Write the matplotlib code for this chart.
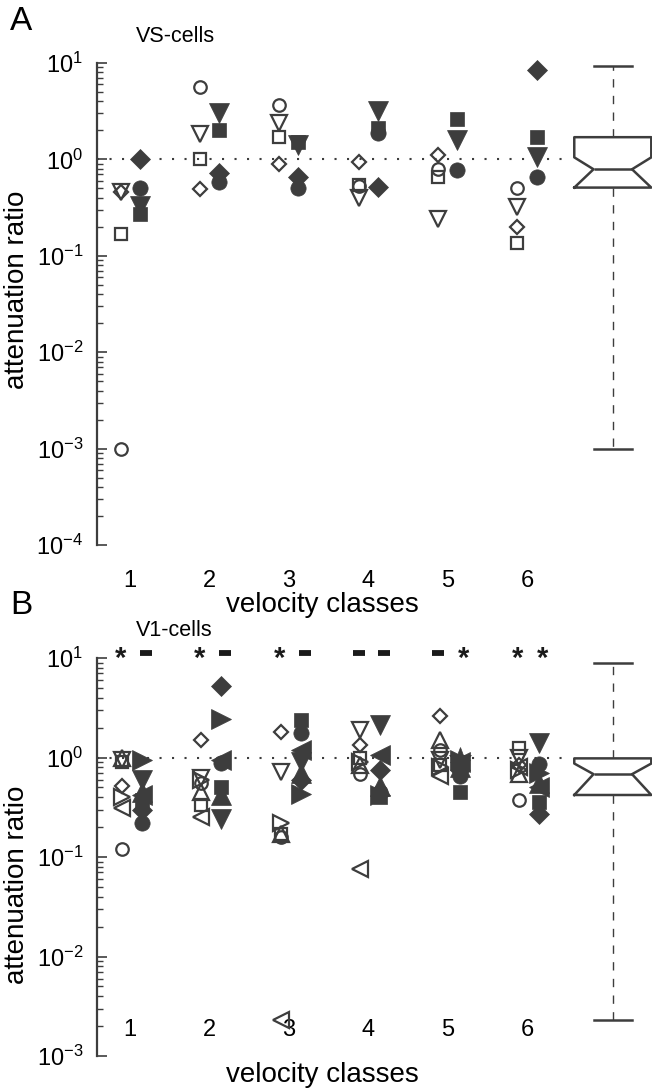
import numpy as np
import matplotlib
matplotlib.use("Agg")
import matplotlib.pyplot as plt
import matplotlib.transforms as mtransforms

plt.rcParams['font.family'] = ['Liberation Sans', 'DejaVu Sans']
plt.rcParams['mathtext.fontset'] = 'custom'
plt.rcParams['mathtext.rm'] = 'Liberation Sans'
plt.rcParams['mathtext.it'] = 'Liberation Sans'

nan = np.nan
classes = [1, 2, 3, 4, 5, 6]
class_labels = ['1', '2', '3', '4', '5', '6']

# ---------------- Panel A: VS-cells ----------------
vs_open_circle   = [0.001, 5.6, 3.7, 0.53, 0.80, 0.51]
vs_open_tridown  = [0.46, 1.85, 2.4, 0.40, 0.24, 0.32]
vs_open_square   = [0.17, 1.0, 1.7, 0.54, 0.65, 0.135]
vs_open_diamond  = [0.46, 0.49, 0.90, 0.95, 1.1, 0.20]
vs_fill_diamond  = [1.0, 0.73, 0.65, 0.52, nan, 8.4]
vs_fill_circle   = [0.50, 0.58, 0.50, 1.9, 0.77, 0.65]
vs_fill_tridown  = [0.33, 3.0, 1.4, 3.2, 1.6, 1.05]
vs_fill_square   = [0.27, 2.0, 1.5, 2.1, 2.6, 1.7]
vs_box = dict(whislo=0.001, q1=0.51, med=0.79, q3=1.7, whishi=9.2,
              cilo=0.51, cihi=1.05)

# ---------------- Panel B: V1-cells ----------------
v1_open_circle   = [0.12, 0.55, 0.16, 0.68, 1.2, 0.37]
v1_open_square   = [0.90, 0.33, 0.17, 1.0, 0.85, 1.25]
v1_open_diamond  = [0.52, 1.5, 1.8, 1.35, 2.6, 0.85]
v1_open_tridown  = [0.95, 0.62, 0.72, 1.9, 0.95, 1.0]
v1_open_triup    = [1.0, 0.45, 0.17, 0.85, 1.5, 0.68]
v1_open_trileft  = [0.31, 0.25, 0.0023, 0.075, 0.65, 0.80]
v1_open_triright = [0.40, 0.60, 0.22, 0.90, 0.80, 0.75]
v1_fill_circle   = [0.22, 0.88, 1.75, 0.45, 0.65, 0.87]
v1_fill_square   = [0.37, 0.50, 2.4, 0.40, 0.45, 0.36]
v1_fill_diamond  = [0.30, 5.2, 0.60, 0.75, 0.75, 0.27]
v1_fill_tridown  = [0.60, 0.24, 0.90, 2.1, 0.85, 1.4]
v1_fill_triup    = [0.45, 0.42, 0.70, 0.52, 0.80, 0.55]
v1_fill_trileft  = [0.42, 0.95, 1.2, 1.05, 0.90, 0.50]
v1_fill_triright = [0.95, 2.45, 0.43, 0.42, 0.95, 0.70]
v1_fill_star     = [nan, nan, nan, nan, 0.97, nan]
v1_box = dict(whislo=0.0023, q1=0.42, med=0.68, q3=0.98, whishi=9.0,
              cilo=0.42, cihi=0.87)
v1_marks_left  = ['*', '*', '*', '-', '-', '*']
v1_marks_right = ['-', '-', '-', '-', '*', '*']

C = '#3d3d3d'
W, H = 652, 1088
fig = plt.figure(figsize=(W / 100, H / 100), dpi=100)

def ax_rect(top_px, bot_px, left_px=97, right_px=652):
    return [left_px / W, 1 - bot_px / H, (right_px - left_px) / W, (bot_px - top_px) / H]

MS_OPEN = {'o': 9, 's': 8.5, 'D': 7, 'v': 11, '^': 11, '<': 11, '>': 11}
MS_FILL = {'o': 11, 's': 10.5, 'D': 10, 'v': 15, '^': 15, '<': 15, '>': 15, '*': 17}

def style_axes(ax, ylo, yhi, major):
    ax.set_yscale('log')
    ax.set_ylim(ylo, yhi)
    ax.set_xlim(0.584, 7.574)
    for s in ['top', 'right', 'bottom']:
        ax.spines[s].set_visible(False)
    ax.spines['left'].set_color(C)
    ax.spines['left'].set_linewidth(1.6)
    ax.set_yticks(major)
    ax.set_yticklabels([r'$10^{%d}$' % int(np.round(np.log10(v))) for v in major])
    ax.tick_params(axis='y', which='major', direction='in', length=7, width=1.2,
                   color=C, labelsize=17, pad=10)
    ax.tick_params(axis='y', which='minor', direction='in', length=4, width=1.0,
                   color=C)
    ax.set_xticks([])
    ax.axhline(1.0, xmin=0, xmax=(6.5 - 0.584) / (7.574 - 0.584), color=C,
               linestyle=(0, (1, 5)), linewidth=1.5, zorder=1)

def draw_box(ax, stats, pos):
    st = dict(stats)
    st['fliers'] = []
    ax.bxp([st], positions=[pos], widths=0.97, shownotches=True,
           showfliers=False, manage_ticks=False,
           boxprops=dict(color=C, linewidth=1.8),
           medianprops=dict(color=C, linewidth=1.8),
           whiskerprops=dict(color=C, linewidth=1.0, linestyle=(0, (6, 6))),
           capprops=dict(color=C, linewidth=1.8))

def scatter_group(ax, x, vals, marker, filled):
    x = np.asarray(x, dtype=float)
    vals = np.asarray(vals, dtype=float)
    if filled:
        ax.plot(x, vals, linestyle='none', marker=marker, ms=MS_FILL[marker],
                mfc=C, mec=C, mew=0.5, zorder=3, clip_on=False)
    else:
        ax.plot(x, vals, linestyle='none', marker=marker, ms=MS_OPEN[marker],
                mfc='none', mec=C, mew=1.6, zorder=4, clip_on=False)

x = np.array(classes, dtype=float)

# ---------------- Panel A ----------------
axA = fig.add_axes(ax_rect(63, 545))
style_axes(axA, 1e-4, 1e1, [1e-4, 1e-3, 1e-2, 1e-1, 1e0, 1e1])
offA = 0.12
for vals, m in [(vs_open_circle, 'o'), (vs_open_tridown, 'v'),
                (vs_open_square, 's'), (vs_open_diamond, 'D')]:
    scatter_group(axA, x - offA, vals, m, False)
for vals, m in [(vs_fill_square, 's'), (vs_fill_tridown, 'v'),
                (vs_fill_diamond, 'D'), (vs_fill_circle, 'o')]:
    scatter_group(axA, x + offA, vals, m, True)
draw_box(axA, vs_box, 7.08)
trA = mtransforms.blended_transform_factory(axA.transData, axA.transAxes)
for xi, lab in zip(classes, class_labels):
    axA.text(xi, -0.074, lab, transform=trA, ha='center', va='center', fontsize=17)
axA.text(3.42, -0.124, 'velocity classes', transform=trA, ha='center', va='center', fontsize=20)
axA.set_ylabel('attenuation ratio', fontsize=20)
axA.yaxis.set_label_coords(-0.12, 0.53)
fig.text(10 / W, 1 - 22 / H, 'A', fontsize=24, ha='left', va='center')
fig.text(136 / W, 1 - 36 / H, 'VS-cells', fontsize=15.5, ha='left', va='center')

# ---------------- Panel B ----------------
axB = fig.add_axes(ax_rect(658, 1056))
style_axes(axB, 1e-3, 1e1, [1e-3, 1e-2, 1e-1, 1e0, 1e1])
offBo, offBf = -0.10, 0.15
for vals, m in [(v1_open_circle, 'o'), (v1_open_square, 's'), (v1_open_diamond, 'D'),
                (v1_open_tridown, 'v'), (v1_open_triup, '^'),
                (v1_open_trileft, '<'), (v1_open_triright, '>')]:
    scatter_group(axB, x + offBo, vals, m, False)
for vals, m in [(v1_fill_square, 's'), (v1_fill_diamond, 'D'), (v1_fill_tridown, 'v'),
                (v1_fill_triup, '^'), (v1_fill_trileft, '<'), (v1_fill_triright, '>'),
                (v1_fill_circle, 'o'), (v1_fill_star, '*')]:
    scatter_group(axB, x + offBf, vals, m, True)
draw_box(axB, v1_box, 7.08)
trB = mtransforms.blended_transform_factory(axB.transData, axB.transAxes)
for xi, l, r in zip(classes, v1_marks_left, v1_marks_right):
    for dx, s in [(-0.12, l), (0.2, r)]:
        if s == '*':
            axB.text(xi + dx, 0.998, '*', transform=trB, ha='center', va='center',
                     fontsize=21, fontweight='bold', color='#1a1a1a')
        else:
            axB.plot([xi + dx], [1.013], transform=trB, marker='_', ms=8.5,
                     mew=4.2, color='#1a1a1a', clip_on=False)
for xi, lab in zip(classes, class_labels):
    axB.text(xi, 0.065, lab, transform=trB, ha='center', va='center', fontsize=17)
axB.text(3.42, -0.048, 'velocity classes', transform=trB, ha='center', va='center', fontsize=20)
axB.set_ylabel('attenuation ratio', fontsize=20)
axB.yaxis.set_label_coords(-0.12, 0.43)
fig.text(10 / W, 1 - 606 / H, 'B', fontsize=24, ha='left', va='center')
fig.text(136 / W, 1 - 630 / H, 'V1-cells', fontsize=15.5, ha='left', va='center')

fig.savefig('out.png', dpi=100)
